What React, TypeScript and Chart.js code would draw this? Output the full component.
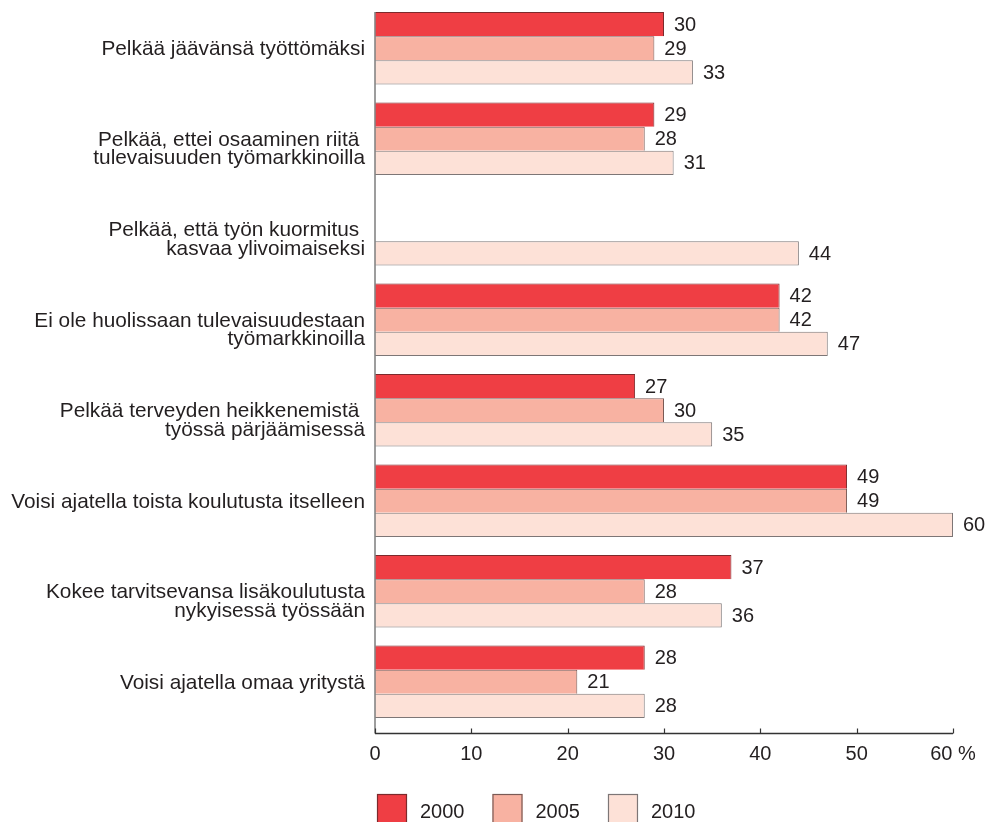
import { useEffect, useRef } from "react";
import { Chart, registerables } from "chart.js";

Chart.register(...registerables);

// ---------- data ----------
const categories: string[][] = [
  ["Pelkää jäävänsä työttömäksi"],
  ["Pelkää, ettei osaaminen riitä ", "tulevaisuuden työmarkkinoilla"],
  ["Pelkää, että työn kuormitus ", "kasvaa ylivoimaiseksi"],
  ["Ei ole huolissaan tulevaisuudestaan", "työmarkkinoilla"],
  ["Pelkää terveyden heikkenemistä ", "työssä pärjäämisessä"],
  ["Voisi ajatella toista koulutusta itselleen"],
  ["Kokee tarvitsevansa lisäkoulutusta", "nykyisessä työssään"],
  ["Voisi ajatella omaa yritystä"],
];
const seriesLabels = ["2000", "2005", "2010"];
const values2000: (number | null)[] = [30, 29, null, 42, 27, 49, 37, 28];
const values2005: (number | null)[] = [29, 28, null, 42, 30, 49, 28, 21];
const values2010: (number | null)[] = [33, 31, 44, 47, 35, 60, 36, 28];
const xMin = 0;
const xMax = 60;
const xStep = 10;
const unitSuffix = " %";

// ---------- styles ----------
const FONT = '"Liberation Sans", Arial, Helvetica, sans-serif';
const TEXT = "#231f20";
const fills = ["#ef3e44", "#f8b2a2", "#fde1d7"];
const borders = ["#7c2a2c", "#7a5a55", "#7d7676"];

const overlayPlugin = {
  id: "overlay",
  afterDatasetsDraw(chart: any) {
    const ctx = chart.ctx as CanvasRenderingContext2D;
    const { bottom } = chart.chartArea;
    const xs = chart.scales.x;
    ctx.save();
    // value labels
    ctx.font = `20px ${FONT}`;
    ctx.fillStyle = TEXT;
    ctx.textAlign = "left";
    ctx.textBaseline = "middle";
    chart.data.datasets.forEach((ds: any, i: number) => {
      const meta = chart.getDatasetMeta(i);
      meta.data.forEach((bar: any, j: number) => {
        const v = ds.data[j];
        if (v == null) return;
        const p = bar.getProps(["x", "y"], true);
        ctx.fillText(String(v), p.x + 10, p.y + 1);
      });
    });
    // axes
    const axisY = Math.round(bottom + 6) + 0.5;
    const first = chart.getDatasetMeta(0).data[0].getProps(["y", "height"], true);
    const topY = first.y - first.height / 2;
    const x0 = xs.getPixelForValue(xMin);
    ctx.strokeStyle = "#858585";
    ctx.lineWidth = 1.6;
    ctx.beginPath();
    ctx.moveTo(x0, topY);
    ctx.lineTo(x0, axisY);
    ctx.stroke();
    ctx.strokeStyle = "#333333";
    ctx.lineWidth = 1.4;
    ctx.beginPath();
    ctx.moveTo(x0, axisY);
    ctx.lineTo(xs.getPixelForValue(xMax), axisY);
    ctx.stroke();
    ctx.lineWidth = 1.2;
    xs.ticks.forEach((t: any) => {
      const px = Math.round(xs.getPixelForValue(t.value)) + 0.5;
      ctx.beginPath();
      ctx.moveTo(px, axisY);
      ctx.lineTo(px, axisY - 5);
      ctx.stroke();
    });
    ctx.restore();
  },
  afterDraw(chart: any) {
    const ctx = chart.ctx as CanvasRenderingContext2D;
    const { left } = chart.chartArea;
    ctx.save();
    ctx.font = `20px ${FONT}`;
    ctx.textAlign = "left";
    ctx.textBaseline = "middle";
    let x = left + 2;
    const boxTop = 794;
    const box = 30;
    chart.data.datasets.forEach((ds: any) => {
      ctx.fillStyle = ds.backgroundColor;
      ctx.fillRect(x, boxTop, box, box);
      ctx.strokeStyle = ds.borderColor;
      ctx.lineWidth = 1.2;
      ctx.strokeRect(x + 0.5, boxTop + 0.5, box - 1, box - 1);
      x += box + 13;
      ctx.fillStyle = TEXT;
      ctx.fillText(ds.label, x, boxTop + 18);
      x += ctx.measureText(ds.label).width + 28;
    });
    ctx.restore();
  },
};

export default function App() {
  const ref = useRef<HTMLCanvasElement | null>(null);

  useEffect(() => {
    if (!ref.current) return;
    const series = [values2000, values2005, values2010];
    const chart = new Chart(ref.current, {
      type: "bar",
      data: {
        labels: categories.map((c) => c.join(" ")),
        datasets: series.map((vals, i) => ({
          label: seriesLabels[i],
          data: vals,
          backgroundColor: fills[i],
          borderColor: borders[i],
          borderWidth:
            i === series.length - 1
              ? { top: 1, right: 1, bottom: 1, left: 0 }
              : { top: 1, right: 1, bottom: 0, left: 0 },
          borderSkipped: false,
          categoryPercentage: 0.8,
          barPercentage: 1.0,
        })),
      },
      options: {
        indexAxis: "y",
        responsive: false,
        animation: false,
        devicePixelRatio: 1,
        layout: { padding: { top: 3, right: 33, bottom: 0, left: 0 } },
        plugins: {
          legend: { display: false },
          tooltip: { enabled: false },
        },
        scales: {
          x: {
            type: "linear",
            min: xMin,
            max: xMax,
            grid: { display: false, drawTicks: false },
            border: { display: false },
            ticks: {
              stepSize: xStep,
              padding: 15,
              color: TEXT,
              font: { family: FONT, size: 20 },
              maxRotation: 0,
              callback: (v: any) => (v === xMax ? `${v}${unitSuffix}` : String(v)),
            },
            afterFit: (s: any) => {
              s.height = 95;
              s.paddingLeft = 0;
              s.paddingRight = 0;
            },
          },
          y: {
            type: "category",
            grid: { display: false, drawTicks: false },
            border: { display: false },
            ticks: {
              padding: 10,
              labelOffset: 1.5,
              color: TEXT,
              autoSkip: false,
              font: { family: FONT, size: 20.8, lineHeight: 0.88 },
              callback: (_v: any, idx: number) => {
                const lines = categories[idx];
                return lines.length > 1 ? ["", ...lines] : lines[0];
              },
            },
            afterFit: (s: any) => {
              s.width = 375;
              s.paddingTop = 0;
              s.paddingBottom = 0;
            },
          },
        },
      } as any,
      plugins: [overlayPlugin],
    });
    return () => chart.destroy();
  }, []);

  return (
    <div style={{ position: "absolute", left: 0, top: 0, width: 986, height: 822, background: "#fff" }}>
      <canvas ref={ref} width={986} height={822} style={{ display: "block" }} />
    </div>
  );
}
